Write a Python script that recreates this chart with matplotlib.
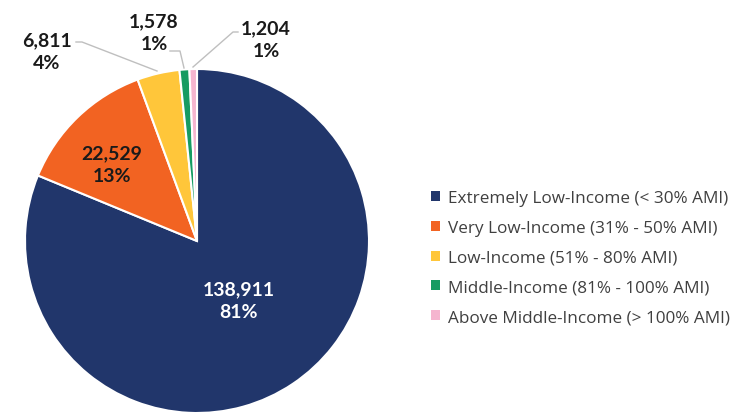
import matplotlib.pyplot as plt
from matplotlib.patches import Patch

categories = ["Extremely Low-Income (< 30% AMI)", "Very Low-Income (31% - 50% AMI)",
              "Low-Income (51% - 80% AMI)", "Middle-Income (81% - 100% AMI)",
              "Above Middle-Income (> 100% AMI)"]
values = [138911, 22529, 6811, 1578, 1204]
pct_labels = ["81%", "13%", "4%", "1%", "1%"]
colors = ["#21366B", "#F26322", "#FFC63A", "#169B62", "#F5B5CF"]

plt.rcParams['font.family'] = ['Lato', 'DejaVu Sans']

W, H = 744, 414
fig = plt.figure(figsize=(W / 100, H / 100), dpi=100)
ax = fig.add_axes([0, 0, 1, 1])

def py(y):
    # pixel y (from top) to data y
    return H - y

cx, cy, r = 197, 242, 172
wedges, _ = ax.pie(values, colors=colors, startangle=90, counterclock=False,
                   center=(cx, py(cy)), radius=r,
                   wedgeprops=dict(edgecolor="white", linewidth=1.5))
ax.set_xlim(0, W)
ax.set_ylim(0, H)
ax.set_aspect("equal")
ax.axis("off")

txt = "#1a1a1a"
lab = [f"{v:,}\n{p}" for v, p in zip(values, pct_labels)]
pos = [(239, 301), (112, 165), (47, 52), (154, 33), (266, 40)]
for i, (x, y) in enumerate(pos):
    ax.text(x, py(y), lab[i], color="white" if i == 0 else txt, fontsize=14,
            fontweight="bold", ha="center", va="center", linespacing=1.4)

lc = "#BFBFBF"
ax.plot([76, 82, 157], [py(43), py(43), py(72)], color=lc, lw=1)
ax.plot([170, 180, 184], [py(52), py(52), py(69)], color=lc, lw=1)
ax.plot([238, 233, 193], [py(33), py(33), py(68)], color=lc, lw=1)

handles = [Patch(facecolor=c, edgecolor="none") for c in colors]
leg = ax.legend(handles, categories, loc="upper left",
                bbox_to_anchor=(416 / W, 1 - 176 / H), frameon=False,
                prop={"family": "Open Sans", "size": 12.3},
                handlelength=0.5, handleheight=0.5,
                handletextpad=0.5, labelspacing=0.8, labelcolor="#404040")

fig.savefig("out.png", dpi=100)
